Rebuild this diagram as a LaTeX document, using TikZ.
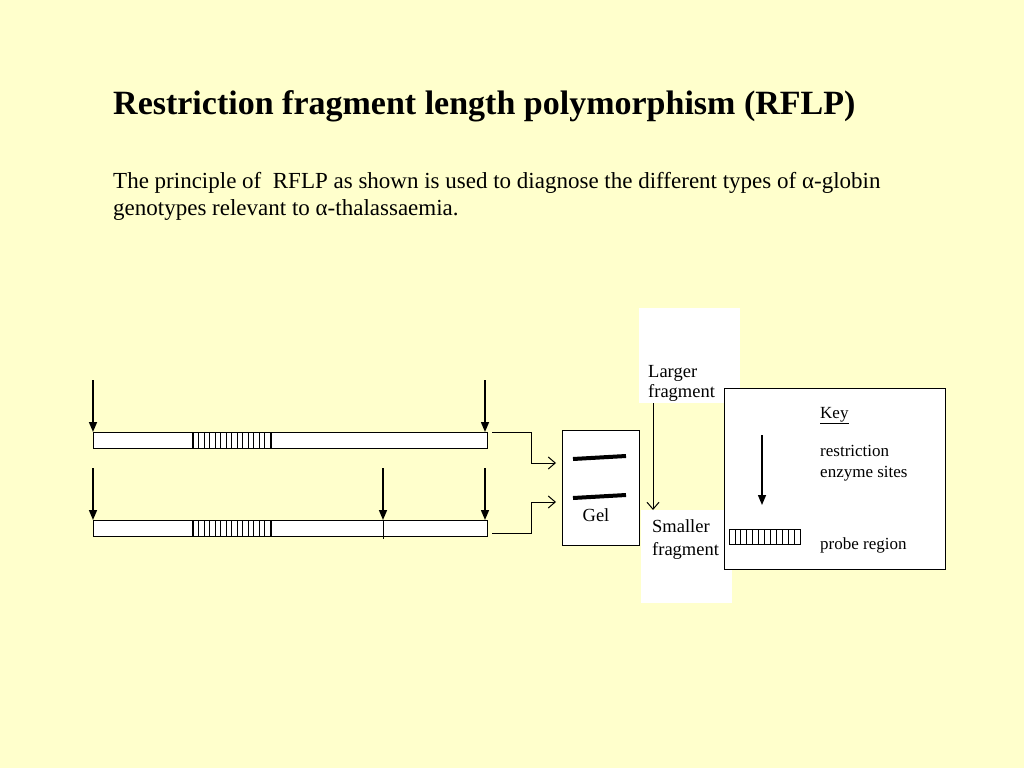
\documentclass[tikz,border=0pt]{standalone}
\usepackage{fontspec}
\setmainfont{Liberation Serif}
\usetikzlibrary{arrows.meta}
\definecolor{bg}{RGB}{255,255,204}
\tikzset{
  dna/.style={draw, fill=white, line width=1pt, minimum height=16pt, inner sep=0pt, anchor=north west},
  cut/.style={-{Triangle[length=10pt,width=8pt]}, line width=1.5pt},
  flow/.style={-{Straight Barb[length=7pt,width=12pt]}, line width=1pt},
  lbl/.style={font=\fontsize{18.5}{22}\selectfont, inner sep=0pt, anchor=base west},
  klbl/.style={font=\fontsize{17}{20}\selectfont, inner sep=0pt, anchor=base west},
  whitebox/.style={fill=white, draw=none, inner sep=0pt, anchor=north west},
}
\begin{document}
\begin{tikzpicture}[x=1pt,y=-1pt]
\path[fill=bg,use as bounding box] (0,0) rectangle (1024,768);
% title
\node[inner sep=0pt, anchor=base west, font=\fontsize{34}{38}\selectfont\bfseries] (title) at (113,114) {Restriction fragment length polymorphism (RFLP)};
\node[inner sep=0pt, anchor=base west, font=\fontsize{23}{27}\selectfont] (intro1) at (113,188) {The principle of\ \ RFLP as shown is used to diagnose the different types of α-globin};
\node[inner sep=0pt, anchor=base west, font=\fontsize{23}{27}\selectfont] (intro2) at (113,215) {genotypes relevant to α-thalassaemia.};
% white backgrounds for fragment labels
\node[whitebox, minimum width=101pt, minimum height=95pt] (lgbg) at (639,308) {};
\node[whitebox, minimum width=91pt, minimum height=93pt] (smbg) at (641,510) {};
% DNA bars
\node[dna, minimum width=394pt] (bar1) at (93,432) {};
\node[dna, minimum width=394pt] (bar2) at (93,520) {};
\node[dna, minimum width=77pt] (probe1) at (193,432) {};
\node[dna, minimum width=77pt] (probe2) at (193,520) {};
\foreach \b in {probe1,probe2}{
  \foreach \i in {1,...,13}{
    \draw[line width=0.7pt] ([xshift=\i*5.5pt]\b.north west) -- ([xshift=\i*5.5pt]\b.south west);
  }
}
\draw[line width=1.5pt] (probe1.north west) -- (probe1.south west) (probe1.north east) -- (probe1.south east);
\draw[line width=1.5pt] (probe2.north west) -- (probe2.south west) (probe2.north east) -- (probe2.south east);
% internal cut on bar 2
\coordinate (c2) at (383,520);
\draw[line width=0.7pt] (c2) -- (383,539);
% restriction arrows
\coordinate (a1) at (93,380); \coordinate (a2) at (485,380);
\coordinate (a3) at (93,468); \coordinate (a4) at (383,468); \coordinate (a5) at (485,468);
\draw[cut] (a1) -- (bar1.north west);
\draw[cut] (a2) -- (a2 |- bar1.north);
\draw[cut] (a3) -- (bar2.north west);
\draw[cut] (a4) -- (c2);
\draw[cut] (a5) -- (a5 |- bar2.north);
% gel
\node[draw, fill=white, line width=1pt, minimum width=77pt, minimum height=115pt, anchor=north west, inner sep=0pt] (gel) at (562,430) {};
\coordinate (b1s) at (573,459); \coordinate (b1e) at (626,456);
\coordinate (b2s) at (573,498); \coordinate (b2e) at (626,495);
\draw[line width=4pt] (b1s) -- (b1e);
\draw[line width=4pt] (b2s) -- (b2e);
\node[lbl, anchor=base] (gellbl) at (596,521) {Gel};
% connectors to gel
\coordinate (g1) at (556,463); \coordinate (g2) at (556,502);
\draw[flow] (492,432) -- (531,432) -- (531,463) -- (g1);
\draw[flow] (492,533) -- (531,533) -- (531,502) -- (g2);
% fragment labels
\node[lbl] (larger) at (648,377) {Larger};
\node[lbl] (largerf) at (648,397) {fragment};
\node[lbl] (smaller) at (652,532) {Smaller};
\node[lbl] (smallerf) at (652,555) {fragment};
\coordinate (fa) at (653,403);
\draw[flow] (fa) -- (smbg.north west -| fa);
% key
\node[draw, fill=white, line width=1pt, minimum width=221pt, minimum height=181pt, anchor=north west, inner sep=0pt] (key) at (724,388) {};
\node[klbl] (keylbl) at (820,418) {\underline{Key}};
\coordinate (ka) at (762,435); \coordinate (kb) at (762,505);
\draw[cut] (ka) -- (kb);
\node[klbl] (restr) at (820,456) {restriction};
\node[klbl] (enz) at (820,477) {enzyme sites};
\node[dna, minimum width=71pt, minimum height=15pt] (kprobe) at (729,529) {};
\foreach \i in {1,...,11}{
  \draw[line width=0.7pt] ([xshift=\i*5.9pt]kprobe.north west) -- ([xshift=\i*5.9pt]kprobe.south west);
}
\node[klbl] (probelbl) at (820,549) {probe region};
\end{tikzpicture}
\end{document}
